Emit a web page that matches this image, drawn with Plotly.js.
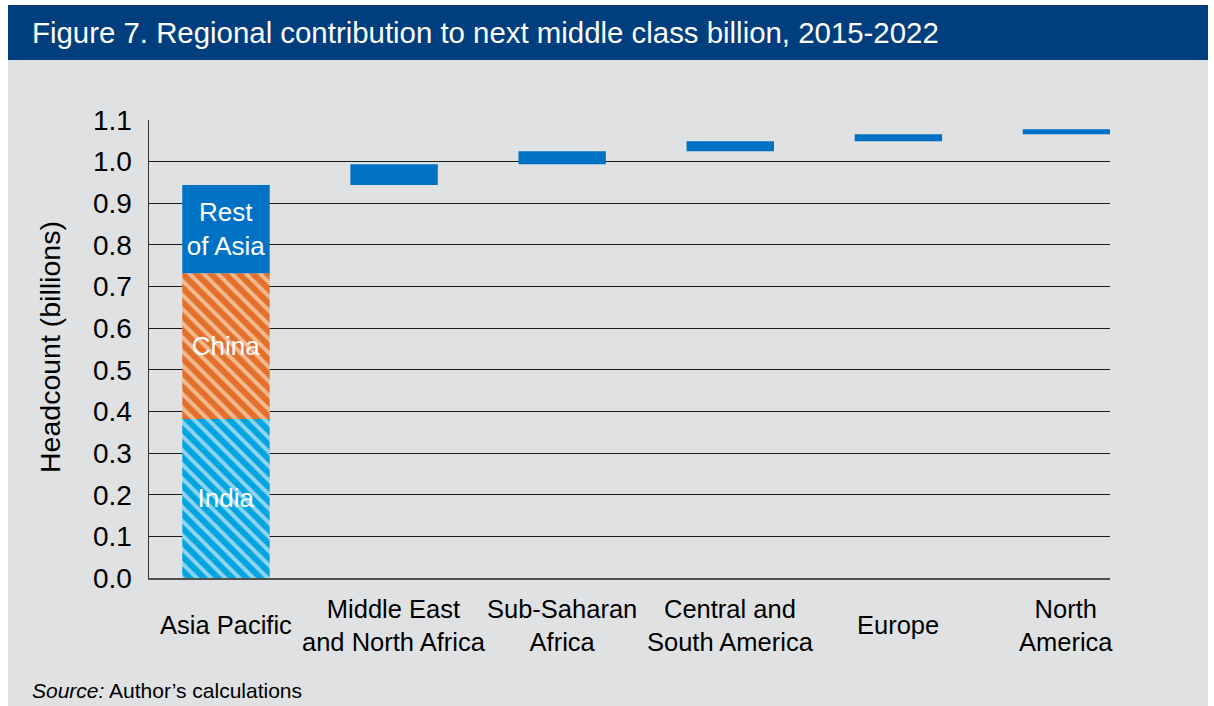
<!DOCTYPE html>
<html><head><meta charset="utf-8">
<script src="https://cdn.plot.ly/plotly-3.0.1.min.js"></script>
<style>html,body{margin:0;padding:0;background:#fff;} #chart{width:1214px;height:706px;}</style>
</head><body><div id="chart"></div>
<script>
// ---- data ----
const categories = ['Asia Pacific', 'Middle East and North Africa', 'Sub-Saharan Africa', 'Central and South America', 'Europe', 'North America'];
const categoryLabels = ['Asia Pacific', 'Middle East<br>and North Africa', 'Sub-Saharan<br>Africa', 'Central and<br>South America', 'Europe', 'North<br>America'];
const asiaSegments = ['India', 'China', 'Rest of Asia'];
const asiaSegmentLabels = ['India', 'China', 'Rest<br>of Asia'];
const asiaValues = [0.382, 0.350, 0.212];
const otherRegions = categories.slice(1);
const otherValues = [0.050, 0.031, 0.024, 0.017, 0.012];
const titleText = 'Figure 7. Regional contribution to next middle class billion, 2015-2022';
const yTitle = 'Headcount (billions)';
const sourceText = '<i>Source:</i> Author’s calculations';

// ---- styles ----
const FONT = 'Liberation Sans, Arial, Helvetica, sans-serif';
const solidBlue = '#0072c6';
const segStyles = [
  {color: '#00a5e0', pattern: {shape: '\\', bgcolor: '#00a5e0', fgcolor: '#8fd4f2', size: 10, solidity: 0.4}},
  {color: '#e2702a', pattern: {shape: '\\', bgcolor: '#e2702a', fgcolor: '#f3b990', size: 10, solidity: 0.4}},
  {color: solidBlue}
];
const BAR_W = 0.52;

// waterfall bases
let cum = 0;
const traces = [];
asiaSegments.forEach((name, i) => {
  const m = Object.assign({line: {width: 0}}, segStyles[i]);
  traces.push({
    type: 'bar', name: name, x: [categories[0]], y: [asiaValues[i]], base: [cum],
    width: BAR_W, marker: m, text: [asiaSegmentLabels[i]], textposition: 'inside',
    insidetextanchor: 'middle', textangle: 0, constraintext: 'none',
    textfont: {family: FONT, size: 26, color: '#ffffff'}, hoverinfo: 'skip', showlegend: false
  });
  cum += asiaValues[i];
});
const otherBases = [];
otherValues.forEach(v => { otherBases.push(cum); cum += v; });
traces.push({
  type: 'bar', name: 'Regions', x: otherRegions, y: otherValues, base: otherBases,
  width: BAR_W, marker: {color: solidBlue, line: {width: 0}}, hoverinfo: 'skip', showlegend: false
});

// ---- layout helpers (pixel -> paper) ----
const L = 149, R = 1110, T = 120, B = 578;
const px = x => (x - L) / (R - L);
const py = y => (B - y) / (B - T);

const annotations = [
  {text: titleText, xref: 'paper', yref: 'paper', x: px(30), y: py(32), xanchor: 'left', yanchor: 'middle',
   showarrow: false, font: {family: FONT, size: 29.4, color: '#ffffff'}},
  {text: sourceText, xref: 'paper', yref: 'paper', x: px(30), y: py(690), xanchor: 'left', yanchor: 'middle',
   showarrow: false, font: {family: FONT, size: 21, color: '#000000'}},
  {text: yTitle, xref: 'paper', yref: 'paper', x: px(50), y: py(347), xanchor: 'center', yanchor: 'middle',
   textangle: -90, showarrow: false, font: {family: FONT, size: 28.5, color: '#000000'}}
];
categories.forEach((c, i) => {
  annotations.push({text: categoryLabels[i], xref: 'x', yref: 'paper', x: c, y: py(625),
    xanchor: 'center', yanchor: 'middle', showarrow: false, align: 'center',
    font: {family: FONT, size: 25.5, color: '#000000'}});
});

const layout = {
  width: 1214, height: 706, autosize: false,
  margin: {l: L, r: 1214 - R, t: T, b: 706 - B, pad: 0},
  paper_bgcolor: '#ffffff', plot_bgcolor: 'rgba(0,0,0,0)',
  barmode: 'overlay', showlegend: false,
  font: {family: FONT, color: '#000'},
  xaxis: {type: 'category', categoryorder: 'array', categoryarray: categories,
    range: [-0.458, 5.259], showticklabels: false, showgrid: false, zeroline: false,
    showline: true, linecolor: '#505050', linewidth: 2, ticks: '', fixedrange: true},
  yaxis: {range: [0, 1.1], dtick: 0.1, tick0: 0, tickformat: '.1f', showgrid: true,
    gridcolor: '#1a1a1a', gridwidth: 1, zeroline: false, showline: true, linecolor: '#303030',
    linewidth: 1.5, ticks: '', ticklabelstandoff: 10,
    tickfont: {family: FONT, size: 28, color: '#000'}, fixedrange: true},
  shapes: [
    {type: 'rect', xref: 'paper', yref: 'paper', x0: px(8), x1: px(1208), y0: py(706), y1: py(60),
     fillcolor: '#e0e1e3', line: {width: 0}, layer: 'below'},
    {type: 'rect', xref: 'paper', yref: 'paper', x0: px(8), x1: px(1208), y0: py(60), y1: py(5),
     fillcolor: '#003e7e', line: {width: 0}, layer: 'below'}
  ],
  annotations: annotations
};

Plotly.newPlot('chart', traces, layout, {displayModeBar: false, staticPlot: true});
</script>
</body></html>
